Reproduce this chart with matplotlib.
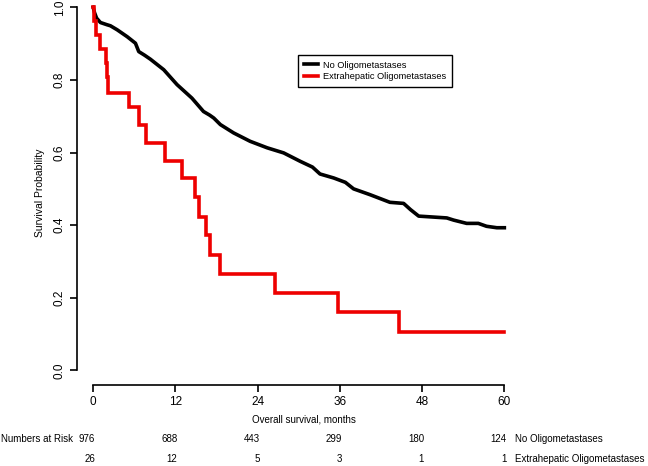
import matplotlib
matplotlib.use("Agg")
import matplotlib.pyplot as plt
from matplotlib.lines import Line2D

plt.rcParams['font.family'] = ['Liberation Sans', 'DejaVu Sans']

# Data (black curve has many small steps; traced as points)
black_t = [0, 0.2, 0.5, 1.06, 2.0, 2.52, 3.5, 4.96, 6.17, 6.65, 7.5, 8.35, 10.3, 12.24,
           14.4, 16.1, 17.0, 17.6, 18.56, 20.5, 22.9, 25.4, 27.8, 30.2, 32.0, 33.1, 35.1,
           36.8, 38.0, 40.4, 43.3, 45.3, 46.3, 47.5, 51.6, 52.6, 54.5, 56.2, 57.4, 58.9, 60.0]
black_s = [1.0, 0.985, 0.97, 0.958, 0.952, 0.949, 0.938, 0.919, 0.901, 0.878, 0.868, 0.857,
           0.828, 0.787, 0.750, 0.713, 0.703, 0.695, 0.677, 0.654, 0.631, 0.613, 0.599,
           0.576, 0.560, 0.541, 0.530, 0.518, 0.500, 0.484, 0.463, 0.460, 0.443, 0.425,
           0.420, 0.414, 0.405, 0.405, 0.397, 0.393, 0.393]

red_t = [0, 0.05, 0.34, 1.06, 1.84, 1.95, 2.13, 5.2, 6.65, 7.7, 10.5, 12.9, 14.9, 15.5,
         16.4, 17.0, 18.5, 26.6, 35.7, 44.65, 60.0]
red_s = [1.0, 0.962, 0.923, 0.885, 0.846, 0.808, 0.765, 0.725, 0.676, 0.627, 0.578, 0.530,
         0.478, 0.423, 0.372, 0.319, 0.266, 0.213, 0.160, 0.107, 0.107]

x_ticks = [0, 12, 24, 36, 48, 60]
y_ticks = [0.0, 0.2, 0.4, 0.6, 0.8, 1.0]
risk_no = [976, 688, 443, 299, 180, 124]
risk_extra = [26, 12, 5, 3, 1, 1]
group_names = ["No Oligometastases", "Extrahepatic Oligometastases"]
colors = ["black", "#EE0000"]

fig = plt.figure(figsize=(6.48, 4.66), dpi=100)
ax = fig.add_axes([0.1184, 0.1738, 0.6853, 0.8262])
ax.set_xlim(-2.4, 62.4)
ax.set_ylim(-0.04, 1.02)

ax.plot(black_t, black_s, color=colors[0], lw=2.6, solid_joinstyle='round')
ax.step(red_t, red_s, where='post', color=colors[1], lw=2.6, solid_joinstyle='miter')

for s in ['top', 'right']:
    ax.spines[s].set_visible(False)
ax.spines['left'].set_bounds(0, 1)
ax.spines['bottom'].set_bounds(0, 60)
ax.spines['left'].set_linewidth(1.2)
ax.spines['bottom'].set_linewidth(1.2)

ax.set_xticks(x_ticks)
ax.set_xticklabels([str(v) for v in x_ticks])
ax.set_yticks(y_ticks)
ax.set_yticklabels([f"{v:.1f}" for v in y_ticks], rotation=90, va='center')
ax.tick_params(axis='both', length=5, width=1.2, labelsize=8.5, pad=3)
ax.set_ylabel("Survival Probability", fontsize=7.5, labelpad=6)

# x label
ax.text(30.8, -0.135, "Overall survival, months", transform=ax.transData, ha='center',
        va='center', fontsize=7, clip_on=False)

# risk table
row_y = [-0.19, -0.245]
ax.text(-13.5, row_y[0], "Numbers at Risk", ha='left', va='center', fontsize=7, clip_on=False)
for xt, a, b in zip(x_ticks, risk_no, risk_extra):
    ax.text(xt + 0.3, row_y[0], str(a), ha='right', va='center', fontsize=7, clip_on=False)
    ax.text(xt + 0.3, row_y[1], str(b), ha='right', va='center', fontsize=7, clip_on=False)
ax.text(61.6, row_y[0], group_names[0], ha='left', va='center', fontsize=7, clip_on=False)
ax.text(61.6, row_y[1], group_names[1], ha='left', va='center', fontsize=7, clip_on=False)

handles = [Line2D([], [], color=c, lw=2.6) for c in colors]
leg = ax.legend(handles, group_names, loc='upper left', bbox_to_anchor=(0.499, 0.857),
                borderaxespad=0, fancybox=False, edgecolor='black', framealpha=1,
                fontsize=6.7, handlelength=1.5, handletextpad=0.6, labelspacing=0.3,
                borderpad=0.6)
leg.get_frame().set_linewidth(1.0)

fig.savefig("out.png", dpi=100)
